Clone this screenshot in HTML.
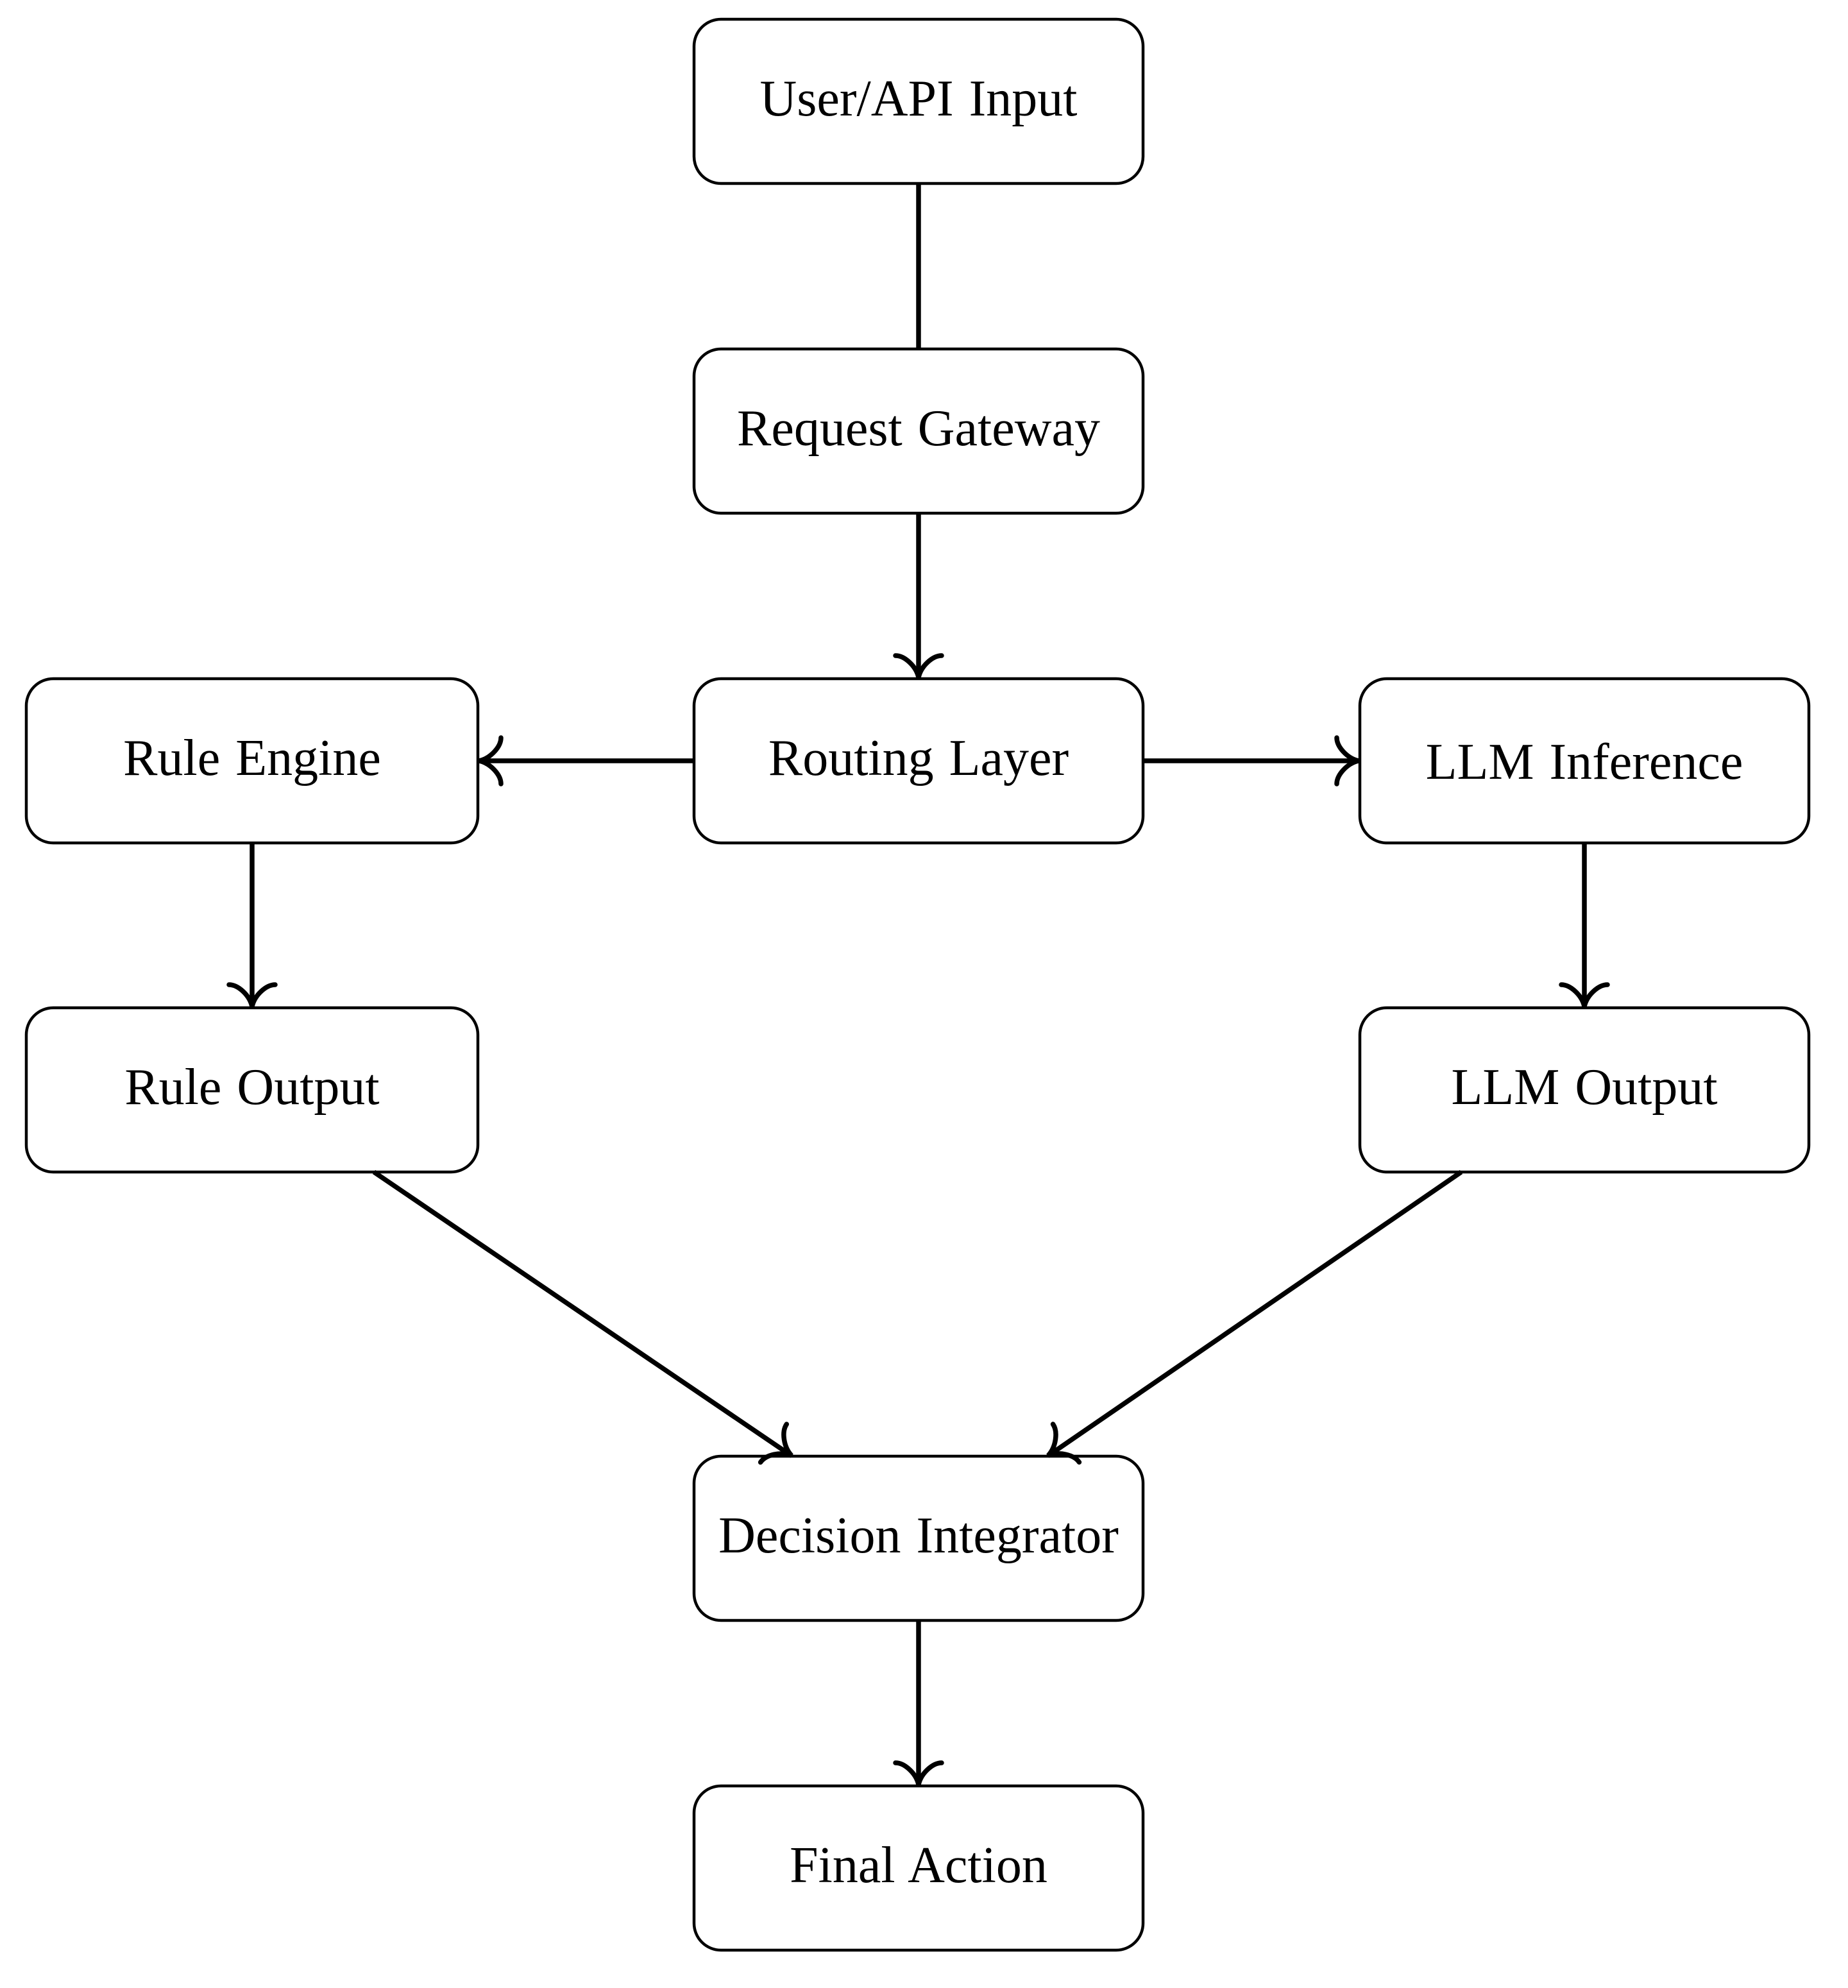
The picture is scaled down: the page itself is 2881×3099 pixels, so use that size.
<!DOCTYPE html>
<html><head><meta charset="utf-8"><style>
html,body{margin:0;padding:0;background:#fff;}
svg{display:block}
text{font-family:"Liberation Serif",serif;font-size:80px;fill:#000;text-anchor:middle;word-spacing:4px}
</style></head><body>
<svg width="2881" height="3099" viewBox="0 0 2881 3099" xmlns="http://www.w3.org/2000/svg">
<defs>
<path id="ah" d="M -34,-36 C -34,-22 -18,-4 0,0 C -18,4 -34,22 -34,36" fill="none" stroke="#000" stroke-width="7.5" stroke-linecap="round"/>
</defs>
<g fill="#fff" stroke="#000" stroke-width="4.5">
<rect x="1082" y="30" width="700" height="256" rx="42"/>
<rect x="1082" y="544" width="700" height="256" rx="42"/>
<rect x="1082" y="1058" width="700" height="256" rx="42"/>
<rect x="41" y="1058" width="704" height="256" rx="42"/>
<rect x="2120" y="1058" width="700" height="256" rx="42"/>
<rect x="41" y="1571" width="704" height="256" rx="42"/>
<rect x="2120" y="1571" width="700" height="256" rx="42"/>
<rect x="1082" y="2270" width="700" height="256" rx="42"/>
<rect x="1082" y="2784" width="700" height="256" rx="42"/>
</g>
<g stroke="#000" stroke-width="7.5" fill="none">
<line x1="1432" y1="288" x2="1432" y2="542"/>
<line x1="1432" y1="802" x2="1432" y2="1054"/>
<line x1="1080" y1="1186" x2="749" y2="1186"/>
<line x1="1784" y1="1186" x2="2116" y2="1186"/>
<line x1="393" y1="1316" x2="393" y2="1567"/>
<line x1="2470" y1="1316" x2="2470" y2="1567"/>
<line x1="583" y1="1827" x2="1232" y2="2268"/>
<line x1="2278" y1="1827" x2="1636" y2="2268"/>
<line x1="1432" y1="2528" x2="1432" y2="2780"/>
</g>
<use href="#ah" transform="translate(1432,1056) rotate(90)"/>
<use href="#ah" transform="translate(747,1186) rotate(180)"/>
<use href="#ah" transform="translate(2118,1186)"/>
<use href="#ah" transform="translate(393,1569) rotate(90)"/>
<use href="#ah" transform="translate(2470,1569) rotate(90)"/>
<use href="#ah" transform="translate(1234,2269) rotate(34.4)"/>
<use href="#ah" transform="translate(1634,2269) rotate(145.4)"/>
<use href="#ah" transform="translate(1432,2782) rotate(90)"/>
<g>
<text x="1432" y="180">User/API Input</text>
<text x="1432" y="694">Request Gateway</text>
<text x="1432" y="1208">Routing Layer</text>
<text x="393" y="1208">Rule Engine</text>
<text x="2470" y="1214">LLM Inference</text>
<text x="393" y="1721">Rule Output</text>
<text x="2470" y="1721">LLM Output</text>
<text x="1432" y="2420">Decision Integrator</text>
<text x="1432" y="2934">Final Action</text>
</g>
</svg>
</body></html>
